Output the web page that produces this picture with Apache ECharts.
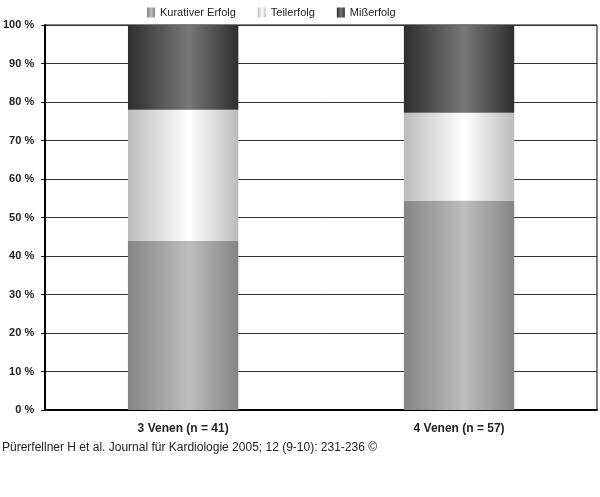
<!DOCTYPE html>
<html>
<head>
<meta charset="utf-8">
<script src="https://cdn.jsdelivr.net/npm/echarts@6/dist/echarts.min.js"></script>
<style>
  html, body { margin: 0; padding: 0; background: #fff; }
  #main { width: 600px; height: 497px; }
</style>
</head>
<body>
<div id="main"></div>
<script>
// Kategorien und Anteile (%)
var categories = ['3 Venen (n = 41)', '4 Venen (n = 57)'];
var kurativ = [43.9, 54.4];
var teilerfolg = [34.1, 22.8];
var misserfolg = [22.0, 22.8];
var yTicks = [0, 10, 20, 30, 40, 50, 60, 70, 80, 90, 100];

// horizontaler Verlauf, wie ein Zylinder
function grad(edge, mid) {
  return new echarts.graphic.LinearGradient(0, 0, 1, 0, [
    { offset: 0, color: edge },
    { offset: 0.55, color: mid },
    { offset: 1, color: edge }
  ]);
}

var myChart = echarts.init(document.getElementById('main'));
myChart.setOption({
  animation: false,
  textStyle: { fontFamily: 'Liberation Sans, Arial, sans-serif' },
  legend: {
    top: 2,
    left: 142,
    icon: 'rect',
    itemWidth: 8,
    itemHeight: 10,
    itemGap: 22,
    textStyle: { fontSize: 11, color: '#222' },
    data: ['Kurativer Erfolg', 'Teilerfolg', 'Mißerfolg']
  },
  grid: {
    left: 45, right: 3, top: 25, bottom: 87,
    show: true, borderColor: '#000', borderWidth: 1
  },
  xAxis: {
    type: 'category',
    data: categories,
    axisTick: { show: false },
    axisLine: { lineStyle: { color: '#000', width: 2 } },
    axisLabel: { fontWeight: 'bold', fontSize: 12, color: '#222', margin: 13 }
  },
  yAxis: {
    type: 'value',
    min: yTicks[0],
    max: yTicks[yTicks.length - 1],
    interval: 10,
    axisLine: { show: true, lineStyle: { color: '#000', width: 2 } },
    axisTick: { show: true, length: 4, lineStyle: { color: '#000' } },
    axisLabel: { formatter: '{value} %', fontWeight: 'bold', fontSize: 11, color: '#222', margin: 11 },
    splitLine: { lineStyle: { color: '#333', width: 1 } }
  },
  series: [
    {
      name: 'Kurativer Erfolg', type: 'bar', stack: 'a', barWidth: '40%',
      data: kurativ,
      itemStyle: { color: grad('#858585', '#bdbdbd') }
    },
    {
      name: 'Teilerfolg', type: 'bar', stack: 'a',
      data: teilerfolg,
      itemStyle: { color: grad('#bcbcbc', '#ffffff') }
    },
    {
      name: 'Mißerfolg', type: 'bar', stack: 'a',
      data: misserfolg,
      itemStyle: { color: grad('#2e2e2e', '#777777') }
    }
  ],
  graphic: [{
    type: 'text', left: 2, top: 442,
    style: {
      text: 'Pürerfellner H et al. Journal für Kardiologie 2005; 12 (9-10): 231-236 ©',
      fontSize: 12, fill: '#222', fontFamily: 'Liberation Sans, Arial, sans-serif'
    }
  }]
});
</script>
</body>
</html>
